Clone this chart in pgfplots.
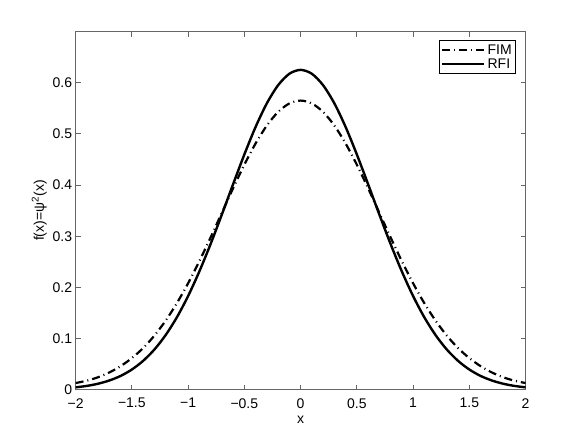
\documentclass[border=0pt]{standalone}
\usepackage{fontspec}
\setmainfont{Liberation Sans}
\usepackage{pgfplots}
\pgfplotsset{compat=1.18}
\begin{document}
\begin{tikzpicture}
\useasboundingbox (-75.6pt,-48.3pt) rectangle (506.4pt,389.7pt);
\begin{axis}[
  at={(0,0)}, anchor=south west,
  scale only axis, width=450pt, height=358.2pt,
  xmin=-2, xmax=2, ymin=0, ymax=0.7,
  xtick={-2,-1.5,-1,-0.5,0,0.5,1,1.5,2},
  xticklabels={−2,−1.5,−1,−0.5,0,0.5,1,1.5,2},
  ytick={0,0.1,0.2,0.3,0.4,0.5,0.6},
  yticklabels={0,0.1,0.2,0.3,0.4,0.5,0.6},
  tick align=inside, major tick length=5pt,
  axis line style={black!60, line width=0.8pt},
  tick style={black!60, line width=0.8pt},
  font=\fontsize{14}{16}\selectfont,
  ticklabel style={font=\fontsize{14}{16}\selectfont},
  xticklabel style={yshift=-5pt},
  yticklabel style={xshift=0pt},
  xlabel={x}, ylabel={f(x)=ψ\textsuperscript{2}(x)},
  xlabel style={yshift=-1pt},
  ylabel style={yshift=-1pt},
  legend style={at={(1,1)}, anchor=north east, xshift=-10pt, yshift=-9pt,
    draw=black, line width=0.8pt, font=\fontsize{14}{16}\selectfont,
    inner sep=1.5pt, row sep=-1pt},
  legend cell align=left,
  legend image code/.code={\draw[#1] (0pt,0pt) -- (42pt,0pt);},
]
\addplot[black, line width=2.2pt, dash pattern=on 8pt off 4pt on 1pt off 4pt, smooth] coordinates {
(-2.0,0.0130) (-1.9,0.0176) (-1.8,0.0244) (-1.7,0.0337) (-1.6,0.0460)
(-1.5,0.0617) (-1.4,0.0813) (-1.3,0.1056) (-1.2,0.1348) (-1.1,0.1690)
(-1.0,0.2080) (-0.9,0.2512) (-0.8,0.2975) (-0.7,0.3456) (-0.6,0.3937)
(-0.5,0.4397) (-0.4,0.4812) (-0.3,0.5162) (-0.2,0.5428) (-0.1,0.5594)
(0.0,0.5650)
(0.1,0.5594) (0.2,0.5428) (0.3,0.5162) (0.4,0.4812) (0.5,0.4397)
(0.6,0.3937) (0.7,0.3456) (0.8,0.2975) (0.9,0.2512) (1.0,0.2080)
(1.1,0.1690) (1.2,0.1348) (1.3,0.1056) (1.4,0.0813) (1.5,0.0617)
(1.6,0.0460) (1.7,0.0337) (1.8,0.0244) (1.9,0.0176) (2.0,0.0130)
};
\addlegendentry{FIM}
\addplot[black, line width=2.4pt, smooth] coordinates {
(-2.0,0.0046) (-1.9,0.0074) (-1.8,0.0117) (-1.7,0.0180) (-1.6,0.0269)
(-1.5,0.0394) (-1.4,0.0563) (-1.3,0.0784) (-1.2,0.1066) (-1.1,0.1414)
(-1.0,0.1830) (-0.9,0.2311) (-0.8,0.2847) (-0.7,0.3423) (-0.6,0.4016)
(-0.5,0.4597) (-0.4,0.5135) (-0.3,0.5596) (-0.2,0.5950) (-0.1,0.6174)
(0.0,0.6250)
(0.1,0.6174) (0.2,0.5950) (0.3,0.5596) (0.4,0.5135) (0.5,0.4597)
(0.6,0.4016) (0.7,0.3423) (0.8,0.2847) (0.9,0.2311) (1.0,0.1830)
(1.1,0.1414) (1.2,0.1066) (1.3,0.0784) (1.4,0.0563) (1.5,0.0394)
(1.6,0.0269) (1.7,0.0180) (1.8,0.0117) (1.9,0.0074) (2.0,0.0046)
};
\addlegendentry{RFI}
\end{axis}
\end{tikzpicture}
\end{document}
